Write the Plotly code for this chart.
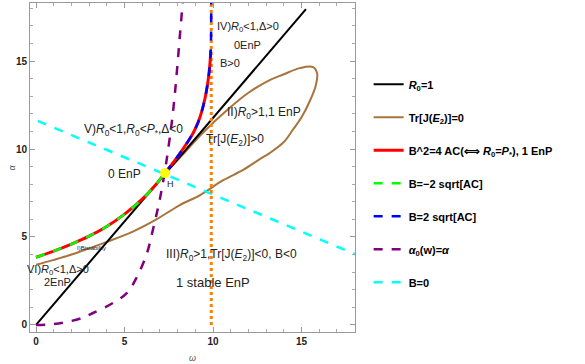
import plotly.graph_objects as go

# R0 = 1 line
r0_w = [0, 15.25]
r0_a = [0, 17.95]

# Tr[J(E2)] = 0 : from left edge along lower branch, round the loop, back to H
tr_w = [0, 1.0, 2.1, 3.0, 4.0, 5.5, 6.8, 8.1, 9.3, 10.6, 11.7, 12.6, 13.2, 14.0, 14.5, 15.0,
        15.5, 15.8, 15.88, 15.65, 14.9, 14.0, 13.2, 12.0, 10.8, 9.4, 8.4, 7.3]
tr_a = [3.42, 3.7, 4.03, 4.35, 4.72, 5.32, 6.0, 6.8, 7.4, 8.24, 8.81, 9.4, 9.77, 10.4, 11.08, 11.8,
        12.8, 13.6, 14.3, 14.66, 14.6, 14.25, 13.92, 13.2, 12.22, 10.9, 9.8, 8.64]

# B^2 = 4AC, lower part (B = -2 sqrt[AC]) and upper part (B = 2 sqrt[AC])
low_w = [0, 1, 2, 3, 4, 5, 6, 6.7, 7.29]
low_a = [3.85, 4.2, 4.6, 5.05, 5.6, 6.3, 7.15, 7.9, 8.65]
up_w = [7.29, 7.8, 8.14, 8.5, 8.87, 9.15, 9.38, 9.55, 9.66, 9.76, 9.83, 9.87, 9.89, 9.9]
up_a = [8.65, 9.3, 9.77, 10.3, 10.9, 11.5, 12.2, 12.9, 13.5, 14.2, 14.9, 15.6, 16.5, 18.4]
red_top = 15.8

# alpha0(w) = alpha
al_w = [0, 1.0, 1.75, 2.6, 3.22, 4.35, 5.14, 5.7, 6.27, 6.6, 6.9, 7.1, 7.29, 7.46, 7.68, 7.85, 8.0, 8.14, 8.3]
al_a = [0, 0.05, 0.17, 0.4, 0.68, 1.25, 1.82, 2.73, 4.09, 5.4, 6.7, 7.7, 8.8, 9.94, 11.6, 13.2, 14.9, 16.6, 18.5]

# B = 0
b0_w = [0.1, 18.1]
b0_a = [11.6, 3.99]

# vertical asymptote
vx_w = [9.9, 9.9]
vx_a = [0, 18.4]

# Hopf point H
h_w = [7.29]
h_a = [8.64]

red_w = low_w + [w for w, a in zip(up_w, up_a) if a <= red_top]
red_a = low_a + [a for a in up_a if a <= red_top]

fig = go.Figure()

fig.add_trace(go.Scatter(x=tr_w, y=tr_a, mode="lines", line=dict(color="#A8743C", width=2, shape="spline"),
                         name="<b>Tr[J(<i>E</i><sub>2</sub>)]=0</b>", legendrank=2, legendgroup="b"))
fig.add_trace(go.Scatter(x=r0_w, y=r0_a, mode="lines", line=dict(color="black", width=2),
                         name="<b><i>R</i><sub>0</sub>=1</b>", legendrank=1, legendgroup="a"))
fig.add_trace(go.Scatter(x=b0_w, y=b0_a, mode="lines", line=dict(color="#00FFFF", width=2.5, dash="dash"),
                         name="<b>B=0</b>", legendrank=7, legendgroup="g"))
fig.add_trace(go.Scatter(x=al_w, y=al_a, mode="lines", line=dict(color="#800080", width=2.5, dash="dash", shape="spline"),
                         name="<b><i>α</i><sub>0</sub>(w)=<i>α</i></b>", legendrank=6, legendgroup="f"))
fig.add_trace(go.Scatter(x=vx_w, y=vx_a, mode="lines", line=dict(color="#FF8000", width=3, dash="dot"),
                         showlegend=False))
fig.add_trace(go.Scatter(x=red_w, y=red_a, mode="lines", line=dict(color="#FF0000", width=3, shape="spline"),
                         name="<b>B^2=4 AC(⟺ <i>R</i><sub>0</sub>=<i>P</i><sub>*</sub>), 1 EnP</b>",
                         legendrank=3, legendgroup="c"))
fig.add_trace(go.Scatter(x=low_w, y=low_a, mode="lines", line=dict(color="#00FF00", width=2.5, dash="dash", shape="spline"),
                         name="<b>B=−2 sqrt[AC]</b>", legendrank=4, legendgroup="d"))
fig.add_trace(go.Scatter(x=up_w, y=up_a, mode="lines", line=dict(color="#0000FF", width=2.5, dash="dash", shape="spline"),
                         name="<b>B=2 sqrt[AC]</b>", legendrank=5, legendgroup="e"))
fig.add_trace(go.Scatter(x=h_w, y=h_a, mode="markers", marker=dict(color="#FFFF00", size=10),
                         showlegend=False))

notes = [
    (11.98, 16.93, "IV)<i>R</i><sub>0</sub><1,Δ>0", 11),
    (11.92, 15.91, "0EnP", 11),
    (10.96, 14.89, "B>0", 11),
    (12.88, 12.05, "II)<i>R</i><sub>0</sub>>1,1 EnP", 12),
    (11.24, 10.51, "Tr[J(<i>E</i><sub>2</sub>)]>0", 12),
    (5.48, 11.08, "V)<i>R</i><sub>0</sub><1,<i>R</i><sub>0</sub><<i>P</i><sub>*</sub>,Δ<0", 12),
    (4.97, 8.58, "0 EnP", 12),
    (7.57, 8.01, "H", 9),
    (3.11, 4.38, "I)Bistability", 6),
    (1.24, 3.13, "VI)<i>R</i><sub>0</sub><1,Δ>0", 11),
    (1.24, 2.44, "2EnP", 11),
    (11.07, 3.98, "III)<i>R</i><sub>0</sub>>1,Tr[J(<i>E</i><sub>2</sub>)]<0, B<0", 12),
    (10.0, 2.44, "1 stable EnP", 13),
]
for x, y, t, s in notes:
    fig.add_annotation(x=x, y=y, text=t, showarrow=False, font=dict(size=s, color="#222"))

# axis titles placed as text
fig.add_annotation(x=0.5, y=-0.079, xref="paper", yref="paper", text="<i>ω</i>", showarrow=False,
                   font=dict(size=9, color="#555"), yanchor="middle")
fig.add_annotation(x=-0.077, y=0.5, xref="paper", yref="paper", text="<i>α</i>", showarrow=False,
                   font=dict(size=9, color="#555"), textangle=-90)

axis_style = dict(
    showline=True, linecolor="#999", linewidth=1, mirror="allticks",
    ticks="inside", ticklen=5, tickcolor="#999", showgrid=False, zeroline=False,
    tickfont=dict(size=10, color="#222", weight="bold"),
    minor=dict(dtick=1, ticks="inside", ticklen=3, tickcolor="#aaa"),
    dtick=5, automargin=False,
)

fig.update_xaxes(range=[-0.34, 18.02], **axis_style)
fig.update_yaxes(range=[-0.4, 18.3], **axis_style)

fig.update_layout(
    width=585, height=364,
    margin=dict(l=30, r=230, t=3, b=32),
    plot_bgcolor="white", paper_bgcolor="white",
    font=dict(family="Liberation Sans, Arial, sans-serif"),
    legend=dict(x=1.042, y=0.797, xanchor="left", yanchor="top", tracegroupgap=14,
                font=dict(size=11, color="black"), bgcolor="rgba(0,0,0,0)"),
    hovermode=False,
)

# drop the browser's default page margin so the figure sits at the top-left corner
fig.write_html("out.html", config={"displayModeBar": False},
               post_script="document.body.style.margin='0';")
